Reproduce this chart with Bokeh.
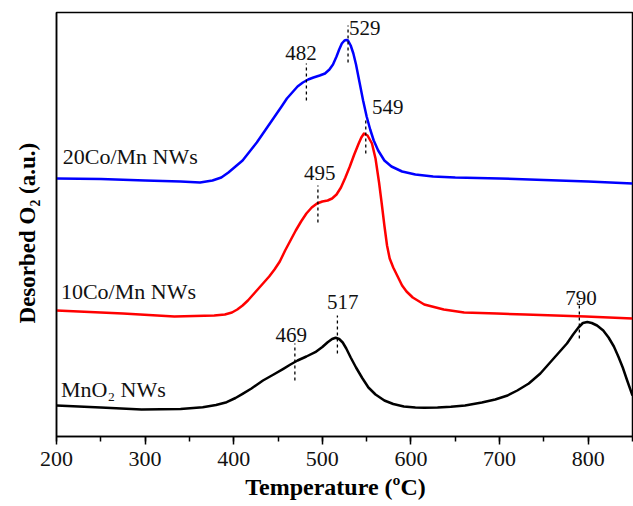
from bokeh.plotting import figure
from bokeh.models import ColumnDataSource, Range1d, SingleIntervalTicker
from bokeh.core.properties import value
from bokeh.embed import file_html
from bokeh.resources import INLINE

# ---- data (temperature in C, desorbed O2 in a.u., curves offset vertically) ----
temp_20co = [200, 250, 300, 340, 362, 376, 386, 394, 402, 410, 418, 426, 433, 440, 447, 454,
             460, 466, 472, 478, 484, 490, 497, 503, 508, 512, 516, 519, 522, 525, 527, 529,
             532, 535, 538, 542, 546, 550, 554, 558, 563, 570, 578, 590, 605, 625, 650, 700,
             750, 800, 850]
o2_20co = [258, 257.5, 256, 255, 254, 256, 259, 264, 270, 276, 285, 294, 303, 312, 321, 330,
           338, 344, 350, 354, 357, 359, 361, 363, 367, 372, 380, 387, 393, 396, 396.5, 396,
           391, 383, 372, 354, 336, 320, 307, 296, 286, 276, 270, 265, 262, 260, 259, 258,
           256.5, 255, 253]

temp_10co = [200, 250, 275, 333, 378, 390, 398, 404, 410, 416, 422, 428, 434, 440, 446, 452,
             458, 464, 470, 476, 482, 488, 494, 500, 506, 511, 516, 521, 526, 531, 536, 541,
             544, 547, 551, 556, 560, 564, 567, 570, 573, 576, 580, 585, 590, 595, 602, 615,
             637, 660, 697, 729, 797, 850]
o2_10co = [126, 124, 123, 120, 121, 122, 124, 127, 131, 136, 142, 148, 154, 160, 167, 175,
           186, 196, 206, 215, 223, 229, 233, 235, 236, 238, 242, 249, 259, 270, 282, 293,
           299, 303, 301, 293, 278, 254, 233, 211, 191, 178, 169, 160, 151, 145, 139, 132,
           127, 124, 123, 122, 120, 118]

temp_mno2 = [200, 250, 296, 340, 365, 380, 392, 402, 410, 420, 433, 445, 456, 464, 472, 482,
             492, 500, 506, 511, 515, 519, 523, 527, 532, 538, 545, 552, 560, 570, 580, 592,
             605, 615, 630, 645, 661, 680, 695, 709, 720, 733, 746, 757, 767, 776, 783, 789,
             794, 799, 804, 810, 817, 823, 829, 834, 839, 844, 850]
o2_mno2 = [31, 29, 27, 27.5, 29.3, 31.5, 34.3, 38.5, 42.7, 48, 56, 62, 67.7, 72, 76, 80,
           84.3, 89.5, 94.3, 97.5, 98.7, 97.5, 94, 88, 79, 69, 58.5, 49, 42, 36, 32.5, 30,
           29, 28.7, 29, 29.7, 31, 34, 37, 41, 46, 53, 63, 74, 84, 93, 102, 109,
           113.5, 114.5, 113.5, 111, 106, 99, 90, 80, 69, 56, 41]

series_names = ["20Co/Mn NWs", "10Co/Mn NWs", "MnO\u2082 NWs"]
series_colors = ["#0000FF", "#FF0000", "#000000"]

# peak annotations
peak_values = [482, 529, 549, 495, 469, 517, 790]
peak_dash_bottom = [336, 374, 283, 214, 56, 83, 98]
peak_dash_top = [373, 411, 319, 251, 93, 121, 136]
peak_label_x = [476, 530, 556, 497, 465, 523, 792]
peak_label_y = [384, 409, 330, 264, 102, 135, 139]
peak_label_align = ["center", "left", "left", "center", "center", "center", "center"]

name_x = [207, 205, 205]
name_y = [280, 145, 47]

x_ticks_interval = 100

FONT = "Liberation Serif"
NBSP = "\u00a0"

p = figure(width=633, height=506, output_backend="svg", toolbar_location=None,
           x_range=Range1d(200, 850), y_range=Range1d(0, 424),
           min_border_left=56, min_border_top=12, min_border_right=1, min_border_bottom=70)

p.background_fill_color = "white"
p.border_fill_color = "white"
p.outline_line_color = "black"
p.outline_line_width = 1.5
p.xgrid.visible = False
p.ygrid.visible = False

for xs, ys, c in [(temp_20co, o2_20co, series_colors[0]),
                  (temp_10co, o2_10co, series_colors[1]),
                  (temp_mno2, o2_mno2, series_colors[2])]:
    p.line(xs, ys, line_color=c, line_width=2.5, line_join="round")

p.segment(x0=peak_values, y0=peak_dash_bottom, x1=peak_values, y1=peak_dash_top,
          line_color="black", line_width=1.3, line_dash="3 3")

lab_src = ColumnDataSource(dict(x=peak_label_x, y=peak_label_y,
                                t=[str(v) for v in peak_values], a=peak_label_align))
p.text(x="x", y="y", text="t", text_align="a", text_baseline="middle",
       text_font=value(FONT), text_font_size="21px", text_color="#111111", source=lab_src)

name_src = ColumnDataSource(dict(x=name_x, y=name_y, t=series_names))
p.text(x="x", y="y", text="t", text_align="left", text_baseline="middle",
       text_font=value(FONT), text_font_size="22px", text_color="#111111", source=name_src)

# x axis
p.xaxis.ticker = SingleIntervalTicker(interval=x_ticks_interval, num_minor_ticks=2)
p.xaxis.axis_label = "Temperature (\u00baC)" + NBSP * 3
p.xaxis.axis_label_text_font = FONT
p.xaxis.axis_label_text_font_style = "bold"
p.xaxis.axis_label_text_font_size = "24px"
p.xaxis.axis_label_text_color = "black"
p.xaxis.axis_label_standoff = 5
p.xaxis.major_label_text_font = FONT
p.xaxis.major_label_text_font_size = "22px"
p.xaxis.major_label_text_color = "#111111"
p.xaxis.major_label_standoff = 7
p.xaxis.major_tick_out = 8
p.xaxis.major_tick_in = 0
p.xaxis.minor_tick_out = 5
p.xaxis.minor_tick_in = 0
p.xaxis.axis_line_width = 1.5
p.xaxis.major_tick_line_width = 1.5
p.xaxis.minor_tick_line_width = 1.5

# y axis
p.yaxis.ticker = []
p.yaxis.major_label_text_font_size = "0px"
p.yaxis.major_tick_out = 0
p.yaxis.minor_tick_out = 0
p.yaxis.major_tick_in = 0
p.yaxis.minor_tick_in = 0
p.yaxis.axis_line_width = 1.5
p.yaxis.axis_label = "Desorbed O\u2082 (a.u.)" + NBSP * 3
p.yaxis.axis_label_text_font = FONT
p.yaxis.axis_label_text_font_style = "bold"
p.yaxis.axis_label_text_font_size = "23px"
p.yaxis.axis_label_text_color = "black"
p.yaxis.axis_label_standoff = 17

open("out.html", "w").write(file_html(p, INLINE))
